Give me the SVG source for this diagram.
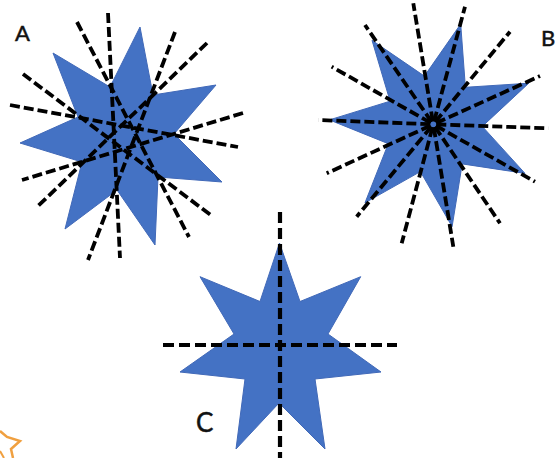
<svg xmlns="http://www.w3.org/2000/svg" width="556" height="458" viewBox="0 0 556 458">
  <style>
    .star { fill: #4472C4; stroke: #4169b8; stroke-width: 1; stroke-linejoin: miter; }
    .dash { stroke: #000; stroke-width: 3.8; stroke-dasharray: 10 4; fill: none; }
    .dashc { stroke: #000; stroke-width: 4.2; stroke-dasharray: 11 5; fill: none; }
    .lbl { font-family: Lato, "Liberation Sans", sans-serif; fill: #111; stroke: #111; stroke-width: 0.5; }
  </style>
  <rect width="556" height="458" fill="#fff"/>

  <g id="starA">
    <polygon class="star" points="140,27 153,95 216,85 174,134 222,182 158,177 155,245 117,190 65,229 82,162 20,143 78,117 53,53 110,87"/>
  </g>
  <g id="starB">
    <polygon class="star" points="460.7,24 465.4,87.3 528.8,83.2 482.3,126.4 525,173.4 462.2,163.9 452.1,226.6 420.4,171.6 365,202.8 388.3,143.7 329.4,119.9 390.1,101.2 372,40.3 424.4,76.1"/>
  </g>
  <g id="starC">
    <polygon class="star" points="279.5,243 300,301.5 360.7,276.7 328,334 381,372 315,379 325,449 279,403 236,449 245,379 180,372 234,334 200,276.7 260,301.5"/>
  </g>

  <g id="connectors">
    <g id="linesA">
      <line class="dash" x1="108" y1="13" x2="120" y2="258"/>
      <line class="dash" x1="77" y1="22" x2="189" y2="237"/>
      <line class="dash" x1="175" y1="32" x2="88" y2="260"/>
      <line class="dash" x1="207" y1="43" x2="36" y2="208"/>
      <line class="dash" x1="23" y1="74" x2="212" y2="216"/>
      <line class="dash" x1="10" y1="105" x2="238" y2="147"/>
      <line class="dash" x1="243" y1="113" x2="22" y2="180"/>
    </g>
    <g id="linesB" stroke-dashoffset="-3">
      <line class="dash" x1="433.3" y1="124.3" x2="413.3" y2="3.3"/>
      <line class="dash" x1="433.3" y1="124.3" x2="465" y2="6.7"/>
      <line class="dash" x1="433.3" y1="124.3" x2="510" y2="31.7"/>
      <line class="dash" x1="433.3" y1="124.3" x2="540" y2="76"/>
      <line class="dash" x1="433.3" y1="124.3" x2="548.3" y2="128.3"/>
      <line class="dash" x1="433.3" y1="124.3" x2="535" y2="181.7"/>
      <line class="dash" x1="433.3" y1="124.3" x2="500" y2="223.3"/>
      <line class="dash" x1="433.3" y1="124.3" x2="453.3" y2="246.7"/>
      <line class="dash" x1="433.3" y1="124.3" x2="401.7" y2="243.3"/>
      <line class="dash" x1="433.3" y1="124.3" x2="356.7" y2="216.7"/>
      <line class="dash" x1="433.3" y1="124.3" x2="326.7" y2="173.3"/>
      <line class="dash" x1="433.3" y1="124.3" x2="318.3" y2="120"/>
      <line class="dash" x1="433.3" y1="124.3" x2="331.7" y2="66.7"/>
      <line class="dash" x1="433.3" y1="124.3" x2="365" y2="25"/>
    </g>
    <g id="linesC">
      <line class="dashc" x1="280" y1="212" x2="280" y2="458"/>
      <line class="dashc" x1="163" y1="345" x2="397" y2="345"/>
    </g>
  </g>

  <g id="labels">
    <text class="lbl" x="15" y="41" font-size="22">A</text>
    <text class="lbl" x="541" y="46" font-size="22">B</text>
    <text class="lbl" x="196" y="432" font-size="26">C</text>
  </g>

  <g id="orange-fragment">
    <polyline points="0,431 7,437 20,441 11,449 13,458" fill="none" stroke="#F0A040" stroke-width="2.5" stroke-linejoin="miter"/>
    <polyline points="0,451 4,458" fill="none" stroke="#F0A040" stroke-width="2"/>
  </g>
</svg>
